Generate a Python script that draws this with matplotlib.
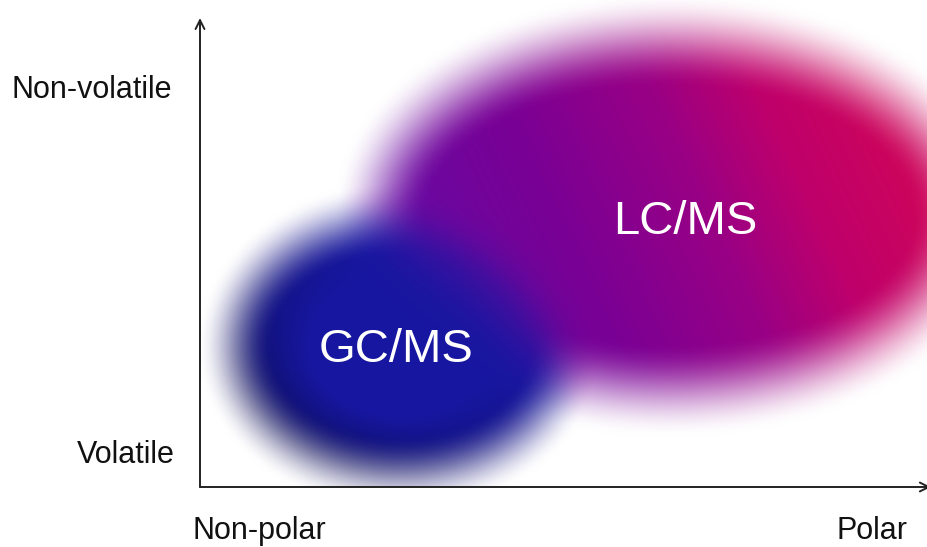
import numpy as np
import matplotlib

matplotlib.use("Agg")
import matplotlib.pyplot as plt

plt.rcParams["font.family"] = ["Liberation Sans", "DejaVu Sans"]

# regions in (polarity, volatility) space, both 0..1
technique_names = ["GC/MS", "LC/MS"]
polarity_center = [0.275, 0.646]
volatility_center = [0.300, 0.580]
polarity_halfwidth = [0.227, 0.398]
volatility_halfwidth = [0.273, 0.373]
label_polarity = [0.269, 0.666]
label_volatility = [0.292, 0.565]

# LC/MS colour runs from purple (less polar) to crimson (polar)
lc_stops = [0.25, 0.50, 0.70, 0.85, 1.00]
lc_red = [0.40, 0.48, 0.60, 0.75, 0.80]
lc_green = [0.04, 0.00, 0.00, 0.00, 0.02]
lc_blue = [0.64, 0.58, 0.52, 0.42, 0.36]
gc_colour = [0.09, 0.09, 0.63]

x_labels = ["Non-polar", "Polar"]
y_labels = ["Volatile", "Non-volatile"]

FIG_W, FIG_H = 928, 547
AX_LEFT, AX_BOTTOM, AX_W, AX_H = 200, 60, 728, 469
IMG_TOP = FIG_H - AX_BOTTOM  # image runs up to the top of the figure


def smoothstep(e0, e1, x):
    t = np.clip((x - e0) / (e1 - e0), 0, 1)
    return t * t * (3 - 2 * t)


def soft_region(px, py, index, blur):
    """Blurred ellipse: alpha, normalised radius and unit direction."""
    cx = polarity_center[index] * AX_W
    cy = volatility_center[index] * AX_H
    a = polarity_halfwidth[index] * AX_W
    b = volatility_halfwidth[index] * AX_H
    dx = px - cx
    dy = py - cy
    r = np.sqrt((dx / a) ** 2 + (dy / b) ** 2) + 1e-9
    grad = np.sqrt((dx / a**2) ** 2 + (dy / b**2) ** 2) / r + 1e-9
    dist = (r - 1) / grad
    alpha = 1 - smoothstep(-blur, blur, dist)
    return alpha, r, dx / (a * r), dy / (b * r)


def build_image():
    px = (np.arange(AX_W) + 0.5)[None, :] * np.ones((IMG_TOP, 1))
    py = (np.arange(IMG_TOP) + 0.5)[:, None] * np.ones((1, AX_W))
    u = px / AX_W
    v = py / AX_H

    lc_alpha, lc_r, _, _ = soft_region(px, py, 1, 48)
    t = u + 0.3 * (v - volatility_center[1])
    lc_rgb = np.stack(
        [
            np.interp(t, lc_stops, lc_red),
            np.interp(t, lc_stops, lc_green),
            np.interp(t, lc_stops, lc_blue),
        ],
        axis=-1,
    )

    gc_alpha, gc_r, ux, uy = soft_region(px, py, 0, 38)
    toward_lower_left = np.clip(0.35 + 0.65 * (-(ux + uy) / np.sqrt(2)), 0, 1)
    shade = 1 - 0.45 * np.clip((gc_r - 0.55) / 0.45, 0, 1) * toward_lower_left
    gc_rgb = np.array(gc_colour)[None, None, :] * shade[..., None]

    # colours mix smoothly where the two regions meet
    w_gc = gc_alpha * np.exp(-3.0 * gc_r**2) + 1e-12
    w_lc = lc_alpha * np.exp(-3.0 * lc_r**2) + 1e-12
    mix = (w_gc[..., None] * gc_rgb + w_lc[..., None] * lc_rgb) / (
        w_gc + w_lc
    )[..., None]
    alpha = 1 - (1 - gc_alpha) * (1 - lc_alpha)

    rgb = np.ones((IMG_TOP, AX_W, 3)) * (1 - alpha[..., None]) + mix * alpha[..., None]
    return np.clip(rgb, 0, 1)


fig = plt.figure(figsize=(FIG_W / 100, FIG_H / 100), dpi=100)
ax = fig.add_axes(
    [AX_LEFT / FIG_W, AX_BOTTOM / FIG_H, AX_W / FIG_W, AX_H / FIG_H]
)
ax.imshow(
    build_image(),
    origin="lower",
    extent=(0, 1, 0, IMG_TOP / AX_H),
    aspect="auto",
    interpolation="bilinear",
    clip_on=False,
    zorder=0,
)
ax.set_xlim(0, 1)
ax.set_ylim(0, 1)
ax.axis("off")

arrow = dict(arrowstyle="->", color="#222222", lw=1.4, mutation_scale=16,
             shrinkA=0, shrinkB=0)
ax.annotate("", xy=(0, 1.0), xytext=(0, 0), xycoords="axes fraction",
            arrowprops=arrow, annotation_clip=False)
ax.annotate("", xy=(1.004, 0), xytext=(0, 0), xycoords="axes fraction",
            arrowprops=arrow, annotation_clip=False)

for name, lx, ly in zip(technique_names, label_polarity, label_volatility):
    ax.text(lx, ly, name, color="white", fontsize=34,
            ha="center", va="center")

fig.text(193 / FIG_W, 1 - 531 / FIG_H, x_labels[0], fontsize=22,
         ha="left", va="center", color="#111111")
fig.text(908 / FIG_W, 1 - 531 / FIG_H, x_labels[1], fontsize=22,
         ha="right", va="center", color="#111111")
fig.text(175 / FIG_W, 1 - 455 / FIG_H, y_labels[0], fontsize=22,
         ha="right", va="center", color="#111111")
fig.text(12 / FIG_W, 1 - 90 / FIG_H, y_labels[1], fontsize=22,
         ha="left", va="center", color="#111111")

fig.savefig("out.png", dpi=100)
